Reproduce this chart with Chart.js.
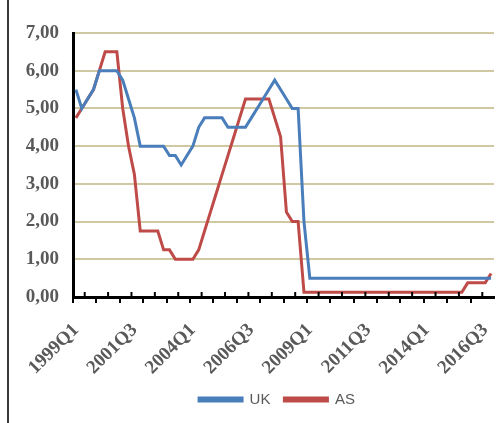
<!DOCTYPE html>
<html>
<head>
<meta charset="utf-8">
<script src="https://cdn.jsdelivr.net/npm/chart.js@4/dist/chart.umd.min.js"></script>
<style>
  body { margin: 0; background: #fff; }
  #wrap { position: relative; width: 497px; height: 423px; }
  #frame { position: absolute; left: 7px; top: 0; width: 2px; height: 423px; background: #3a3a3a; }
</style>
</head>
<body>
<div id="wrap">
  <div id="frame"></div>
  <canvas id="myChart" width="497" height="423"></canvas>
</div>
<script>
// quarters 1999Q1 .. 2016Q4
var quarters = [
  '1999Q1','1999Q2','1999Q3','1999Q4','2000Q1','2000Q2','2000Q3','2000Q4',
  '2001Q1','2001Q2','2001Q3','2001Q4','2002Q1','2002Q2','2002Q3','2002Q4',
  '2003Q1','2003Q2','2003Q3','2003Q4','2004Q1','2004Q2','2004Q3','2004Q4',
  '2005Q1','2005Q2','2005Q3','2005Q4','2006Q1','2006Q2','2006Q3','2006Q4',
  '2007Q1','2007Q2','2007Q3','2007Q4','2008Q1','2008Q2','2008Q3','2008Q4',
  '2009Q1','2009Q2','2009Q3','2009Q4','2010Q1','2010Q2','2010Q3','2010Q4',
  '2011Q1','2011Q2','2011Q3','2011Q4','2012Q1','2012Q2','2012Q3','2012Q4',
  '2013Q1','2013Q2','2013Q3','2013Q4','2014Q1','2014Q2','2014Q3','2014Q4',
  '2015Q1','2015Q2','2015Q3','2015Q4','2016Q1','2016Q2','2016Q3','2016Q4'
]

var uk = [
  5.5, 5.0, 5.25, 5.5, 6.0, 6.0, 6.0, 6.0,
  5.75, 5.25, 4.75, 4.0, 4.0, 4.0, 4.0, 4.0,
  3.75, 3.75, 3.5, 3.75, 4.0, 4.5, 4.75, 4.75,
  4.75, 4.75, 4.5, 4.5, 4.5, 4.5, 4.75, 5.0,
  5.25, 5.5, 5.75, 5.5, 5.25, 5.0, 5.0, 2.0,
  0.5, 0.5, 0.5, 0.5, 0.5, 0.5, 0.5, 0.5,
  0.5, 0.5, 0.5, 0.5, 0.5, 0.5, 0.5, 0.5,
  0.5, 0.5, 0.5, 0.5, 0.5, 0.5, 0.5, 0.5,
  0.5, 0.5, 0.5, 0.5, 0.5, 0.5, 0.5, 0.5
]

var as = [
  4.75, 5.0, 5.25, 5.5, 6.0, 6.5, 6.5, 6.5,
  5.0, 4.0, 3.25, 1.75, 1.75, 1.75, 1.75, 1.25,
  1.25, 1.0, 1.0, 1.0, 1.0, 1.25, 1.75, 2.25,
  2.75, 3.25, 3.75, 4.25, 4.75, 5.25, 5.25, 5.25,
  5.25, 5.25, 4.75, 4.25, 2.25, 2.0, 2.0, 0.125,
  0.125, 0.125, 0.125, 0.125, 0.125, 0.125, 0.125, 0.125,
  0.125, 0.125, 0.125, 0.125, 0.125, 0.125, 0.125, 0.125,
  0.125, 0.125, 0.125, 0.125, 0.125, 0.125, 0.125, 0.125,
  0.125, 0.125, 0.125, 0.375, 0.375, 0.375, 0.375, 0.625
]

var yTicks = [0, 1, 2, 3, 4, 5, 6, 7]

var axisFont = { family: '"Liberation Serif", "Times New Roman", serif', size: 19, weight: 'bold' }

// small upward tick marks between the downward ones
var upTicks = {
  id: 'upTicks',
  afterLayout: function (chart) {
    // legend sits a bit right of centre in the original
    chart.legend.left += 30
    chart.legend.right += 30
  },
  afterDraw: function (chart) {
    var x = chart.scales.x
    var ctx = chart.ctx
    var bottom = chart.chartArea.bottom
    ctx.save()
    ctx.strokeStyle = '#000'
    ctx.lineWidth = 2
    for (var i = 2; i < quarters.length; i += 4) {
      var px = (x.getPixelForValue(i - 1) + x.getPixelForValue(i)) / 2
      ctx.beginPath()
      ctx.moveTo(px, bottom)
      ctx.lineTo(px, bottom - 5)
      ctx.stroke()
    }
    ctx.restore()
  }
}

var canvas = document.getElementById('myChart')
var myChart = new Chart(canvas, {
  type: 'line',
  data: {
    labels: quarters,
    datasets: [{
      label: 'UK',
      data: uk,
      borderColor: '#4a7ebb',
      backgroundColor: '#4a7ebb',
      borderWidth: 3,
      pointRadius: 0,
      tension: 0
    }, {
      label: 'AS',
      data: as,
      borderColor: '#be4b48',
      backgroundColor: '#be4b48',
      borderWidth: 3,
      pointRadius: 0,
      tension: 0
    }]
  },
  options: {
    responsive: false,
    animation: false,
    layout: { padding: { top: 33, right: 3, bottom: 6, left: 0 } },
    plugins: {
      tooltip: { enabled: false },
      legend: {
        position: 'bottom',
        labels: {
          boxWidth: 43,
          boxHeight: 3,
          padding: 14,
          color: '#595959',
          font: { family: '"Liberation Sans", Arial, sans-serif', size: 15 }
        }
      }
    },
    scales: {
      x: {
        offset: true,
        afterFit: function (s) { s.height = 81; s.paddingRight = 0 },
        grid: {
          offset: true,
          drawOnChartArea: false,
          tickLength: 6,
          lineWidth: 2,
          color: function (c) { return c.index % 4 === 0 ? '#000' : 'rgba(0,0,0,0)' }
        },
        border: { color: '#000', width: 3 },
        ticks: {
          autoSkip: false,
          maxRotation: 45,
          minRotation: 45,
          padding: 16,
          color: '#595959',
          font: axisFont,
          callback: function (v, i) { return i % 10 === 0 ? quarters[i] : '' }
        }
      },
      y: {
        min: 0,
        max: 7,
        afterFit: function (s) { s.width = 73 },
        afterBuildTicks: function (s) { s.ticks = yTicks.map(function (v) { return { value: v } }) },
        grid: { color: '#d0c8a2', lineWidth: 2, drawTicks: false },
        border: { color: '#000', width: 3 },
        ticks: {
          padding: 14,
          color: '#595959',
          font: axisFont,
          callback: function (v) { return v.toFixed(2).replace('.', ',') }
        }
      }
    }
  },
  plugins: [upTicks]
})
</script>
</body>
</html>
